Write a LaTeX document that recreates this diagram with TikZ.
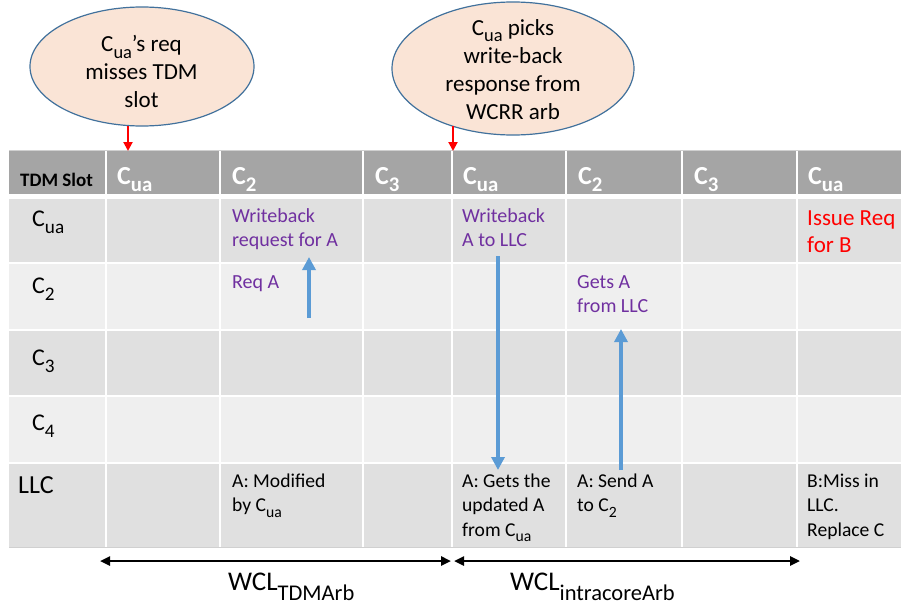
\documentclass[tikz,border=0pt]{standalone}
\usepackage{fontspec}
\setmainfont{Carlito}
\usepackage{graphicx}
\usetikzlibrary{arrows.meta,shapes.geometric}

\definecolor{hdr}{HTML}{A5A5A5}
\definecolor{rowdark}{HTML}{E0E0E0}
\definecolor{rowlight}{HTML}{EFEFEF}
\definecolor{gridedge}{HTML}{D0D0D0}
\definecolor{bubblefill}{HTML}{FAE4D6}
\definecolor{bubbleline}{HTML}{41719C}
\definecolor{flow}{HTML}{5B9BD5}
\definecolor{note}{HTML}{7030A0}
\definecolor{alert}{HTML}{FF0000}

% lowered, smaller subscript
\newcommand{\lsub}[1]{\raisebox{-0.3em}{\scalebox{0.8}{#1}}}
% top-aligned text blocks (first baseline is the node's base)
\newcommand{\cellbox}[1]{\parbox[t]{110pt}{\raggedright #1}}
\newcommand{\midbox}[1]{\parbox[t]{230pt}{\centering #1}}
% latency label: name with a lowered suffix
\newcommand{\wcl}[1]{WCL\raisebox{-10pt}{\fontsize{22.5}{26}\selectfont #1}}

\begin{document}
\begin{tikzpicture}[x=1pt,y=-1pt,
  bubble/.style={ellipse, draw=bubbleline, line width=1.2pt, fill=bubblefill, inner sep=0pt},
  bubbletext/.style={anchor=base, inner sep=0pt, font=\fontsize{23}{28}\selectfont},
  hdrtext/.style={anchor=base west, inner sep=0pt, text=white,
    font=\fontsize{26}{30}\selectfont\bfseries},
  slottext/.style={anchor=base west, inner sep=0pt,
    font=\fontsize{19}{22}\selectfont\bfseries},
  rowtext/.style={anchor=base west, inner sep=0pt, font=\fontsize{24}{28}\selectfont},
  llctext/.style={anchor=base west, inner sep=0pt, font=\fontsize{26}{30}\selectfont},
  celltext/.style={anchor=base west, inner sep=0pt, font=\fontsize{19.6}{24.5}\selectfont},
  notetext/.style={anchor=base west, inner sep=0pt, text=note, font=\fontsize{20}{24.5}\selectfont},
  alerttext/.style={anchor=base west, inner sep=0pt, text=alert,
    font=\fontsize{23}{27}\selectfont},
  wcltext/.style={anchor=base west, inner sep=0pt, font=\fontsize{27}{30}\selectfont},
  grid/.style={white, line width=2pt},
  pointer/.style={alert, line width=2pt, -{Triangle[width=9pt,length=9pt]}},
  flowarrow/.style={flow, line width=4pt, -{Triangle[width=13pt,length=13pt]}},
  span/.style={black, line width=2.4pt,
    {Triangle[width=9pt,length=10pt]}-{Triangle[width=9pt,length=10pt]}}
]
\useasboundingbox (0,0) rectangle (901,608);

% ---- table body ----
\fill[hdr] (9,151) rectangle (901,194);
\fill[rowdark]  (9,199) rectangle (901,263);
\fill[rowlight] (9,263) rectangle (901,330);
\fill[rowdark]  (9,330) rectangle (901,396);
\fill[rowlight] (9,396) rectangle (901,463);
\fill[rowdark]  (9,463) rectangle (901,547);
\foreach \cx in {106,220,363,452,566,682,797}
  \draw[grid] (\cx,151) -- (\cx,547);
\foreach \ry in {263,330,396,463}
  \draw[grid] (9,\ry) -- (901,\ry);
\draw[gridedge, line width=1pt] (9,150.5) -- (901,150.5);
\draw[gridedge, line width=1pt] (9,547.5) -- (901,547.5);

% ---- header row ----
\node[slottext] (slot) at (20,186) {TDM Slot};
\node[hdrtext] (h1) at (117,184) {C\lsub{ua}};
\node[hdrtext] (h2) at (232,184) {C\lsub{2}};
\node[hdrtext] (h3) at (375,184) {C\lsub{3}};
\node[hdrtext] (h4) at (463,184) {C\lsub{ua}};
\node[hdrtext] (h5) at (578,184) {C\lsub{2}};
\node[hdrtext] (h6) at (694,184) {C\lsub{3}};
\node[hdrtext] (h7) at (808,184) {C\lsub{ua}};

% ---- row labels ----
\node[rowtext] (rua) at (32,226) {C\lsub{ua}};
\node[rowtext] (r2)  at (32,293) {C\lsub{2}};
\node[rowtext] (r3)  at (32,365) {C\lsub{3}};
\node[rowtext] (r4)  at (32,430) {C\lsub{4}};
\node[llctext] (rl)  at (18,493) {LLC};

% ---- cell contents ----
\node[notetext] (wbreq) at (232,222) {\cellbox{Writeback\\request for A}};
\node[notetext] (reqa)  at (232,288) {\cellbox{Req A}};
\node[notetext] (wbllc) at (462,222) {\cellbox{Writeback\\A to LLC}};
\node[notetext] (gets)  at (577,288) {\cellbox{Gets A\\from LLC}};
\node[alerttext] (issue) at (807,225) {\parbox[t]{100pt}{\raggedright Issue Req\\for B}};
\node[celltext] (modf)  at (232,487) {\cellbox{A: Modified\\by C\lsub{ua}}};
\node[celltext] (upd)   at (462,487) {\cellbox{A: Gets the\\updated A\\from C\lsub{ua}}};
\node[celltext] (send)  at (577,487) {\cellbox{A: Send A\\to C\lsub{2}}};
\node[celltext] (miss)  at (807,487) {\cellbox{B:Miss in\\LLC.\\Replace C}};

% ---- data movement ----
\coordinate (a1s) at (309,318); \coordinate (a1e) at (309,257);
\coordinate (a2s) at (498,256); \coordinate (a2e) at (498,470);
\coordinate (a3s) at (621,470); \coordinate (a3e) at (621,329);
\draw[flowarrow] (a1s) -- (a1e);
\draw[flowarrow] (a2s) -- (a2e);
\draw[flowarrow] (a3s) -- (a3e);

% ---- event bubbles ----
\node[bubble, minimum width=224pt, minimum height=119pt] (e1) at (142,66.5) {};
\node[bubbletext] (t1) at (141.5,51.5) {\midbox{C\lsub{ua}’s req\\misses TDM\\slot}};
\node[bubble, minimum width=242pt, minimum height=133pt] (e2) at (513,68.5) {};
\node[bubbletext] (t2) at (513,35) {\midbox{C\lsub{ua} picks\\write-back\\response from\\WCRR arb}};
\coordinate (p1s) at (128,126); \coordinate (p1e) at (128,151);
\coordinate (p2s) at (453,126); \coordinate (p2e) at (453,151);
\draw[pointer] (p1s) -- (p1e);
\draw[pointer] (p2s) -- (p2e);

% ---- latency spans ----
\coordinate (s1) at (100,561); \coordinate (s2) at (451,561);
\coordinate (s3) at (454,561); \coordinate (s4) at (800,561);
\draw[span] (s1) -- (s2);
\draw[span] (s3) -- (s4);
\node[wcltext] (wcl1) at (228,590) {\wcl{TDMArb}};
\node[wcltext] (wcl2) at (510,590) {\wcl{intracoreArb}};
\end{tikzpicture}
\end{document}
